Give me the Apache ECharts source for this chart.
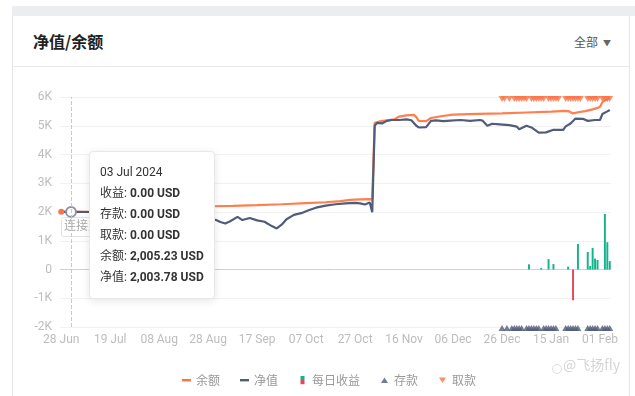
<!DOCTYPE html>
<html><head><meta charset="utf-8">
<script src="https://cdn.jsdelivr.net/npm/echarts@6/dist/echarts.min.js"></script>
<style>
html,body{margin:0;padding:0;width:635px;height:396px;background:#fff;overflow:hidden;font-family:"Noto Sans CJK SC","Noto Sans",sans-serif;}
#band{position:absolute;left:12px;top:6px;width:623px;height:10px;background:#ebedf0;}
#card{position:absolute;left:12px;top:16px;width:616px;height:380px;border-left:1px solid #e6e6e6;border-right:1px solid #e6e6e6;}
#title{position:absolute;left:33px;top:30px;line-height:22px;font-size:16px;font-weight:bold;color:#222;}
#filter{position:absolute;left:574px;top:34px;line-height:16px;font-size:12px;color:#555;}
#filter span{font-size:8px;margin-left:5px;color:#666;vertical-align:1px;}
#divider{position:absolute;left:12px;top:66px;width:618px;height:1px;background:#e8e8e8;}
#chart{position:absolute;left:0;top:0;width:635px;height:396px;}
</style></head>
<body>
<div id="band"></div><div id="card"></div>
<div id="title">净值/余额</div>
<div id="filter">全部<span>▼</span></div>
<div id="divider"></div>
<div id="chart"></div>
<script>
// ---- data ----
const tickLabels = ['28 Jun','19 Jul','08 Aug','28 Aug','17 Sep','07 Oct','27 Oct','16 Nov','06 Dec','26 Dec','15 Jan','01 Feb'];
const categoryCount = 225;
const categories = Array.from({length: categoryCount}, (_, i) => String(i));
const yTicks = { min: -2000, max: 6000, step: 1000 };

// [categoryIndex, value]
const balance = [
 [0,2005],[4,2005.23],[12,2010],[25,2060],[40,2120],[55,2180],[62,2200],[70,2215],[80,2240],[90,2270],
 [100,2310],[108,2340],[114,2380],[118,2420],[122,2440],[126,2450],[127,2430],[128,5100],[130,5150],[133,5190],
 [136,5220],[138,5320],[141,5360],[144,5380],[145,5300],[146,5170],[149,5160],[151,5270],[155,5330],[160,5390],
 [170,5410],[180,5430],[190,5460],[200,5490],[206,5520],[207,5510],[209,5430],[211,5470],[214,5510],[217,5570],
 [219,5620],[220,5660],[221,5820],[222,5880],[224,5960]
];
const equity = [
 [0,2004],[4,2003.78],[12,2000],[20,1990],[30,1920],[40,1780],[50,1730],[58,1690],[61,1700],[63,1730],
 [65,1650],[67,1600],[69,1680],[72,1830],[74,1720],[77,1790],[80,1710],[83,1660],[86,1510],[88,1430],
 [90,1560],[92,1750],[95,1900],[98,1960],[101,2060],[104,2150],[108,2220],[112,2270],[116,2300],[120,2320],
 [122,2300],[124,2260],[126,2330],[127,1990],[128,5000],[129,5100],[131,5080],[133,5170],[135,5200],[138,5200],
 [141,5220],[143,5190],[145,5000],[146,4940],[149,4950],[151,5170],[153,5190],[156,5160],[159,5180],[163,5200],
 [167,5170],[171,5200],[172,5180],[174,5000],[176,5070],[179,5050],[183,5020],[186,4970],[187,4880],[190,5000],
 [192,4940],[195,4760],[198,4770],[201,4860],[205,4860],[206,4980],[208,5080],[210,5250],[213,5240],[215,5170],
 [218,5200],[220,5200],[221,5410],[223,5500],[224,5550]
];
const dailyIncome = [
 [191,180],[196,50],[199,360],[201,190],[207,100],[209,-1070],[211,890],[215,610],[216,120],[217,750],
 [218,380],[219,330],[222,1930],[223,950],[224,290]
];
const depositDays = [180,182,184,185,186,187,188,190,191,192,193,194,195,197,198,199,200,201,202,206,207,208,209,210,211,215,216,217,218,219,221,222,223,224];
const withdrawDays = [180,181,183,185,186,187,188,189,190,192,193,194,195,196,197,199,200,201,202,203,206,207,208,209,210,211,212,215,216,217,218,219,221,222,223,224];
const depositLevel = -2000;
const withdrawLevel = 6000;
const tipDate = '03 Jul 2024';
const tipRows = [['收益','0.00 USD'],['存款','0.00 USD'],['取款','0.00 USD'],['余额','2,005.23 USD'],['净值','2,003.78 USD']];

// ---- styling ----
const C = { bal:'#fa7447', eq:'#505c79', up:'#13b38b', down:'#e8475b', label:'#bdbdbd' };
function svgIcon(body){ return 'image://data:image/svg+xml;charset=utf-8,' + encodeURIComponent('<svg xmlns="http://www.w3.org/2000/svg" width="9" height="9" viewBox="0 0 9 9">'+body+'</svg>'); }
const icons = {
  bal: svgIcon('<rect x="0" y="3.5" width="9" height="2.4" fill="'+C.bal+'"/>'),
  eq: svgIcon('<rect x="0" y="3.5" width="9" height="2.4" fill="'+C.eq+'"/>'),
  bar: svgIcon('<rect x="2.5" y="0" width="4" height="4.5" fill="'+C.up+'"/><rect x="2.5" y="4.5" width="4" height="4.5" fill="'+C.down+'"/>'),
  dep: svgIcon('<polygon points="1,7.5 8,7.5 4.5,2" fill="'+C.eq+'"/>'),
  wd: svgIcon('<polygon points="1,2 8,2 4.5,7.5" fill="'+C.bal+'"/>')
};
const font = 'Roboto, "Noto Sans CJK SC", sans-serif';
const splitColors = [];
for (let v = yTicks.min; v <= yTicks.max; v += yTicks.step) splitColors.push(v === 0 ? '#d0d0d0' : '#f1f1f1');

const chart = echarts.init(document.getElementById('chart'), null, {renderer:'canvas'});
chart.setOption({
  animation: false,
  grid: { left: 60, right: 24, top: 97, bottom: 69 },
  xAxis: {
    type: 'category', data: categories, boundaryGap: true,
    axisLine: { show: false }, axisTick: { show: false }, splitLine: { show: false },
    axisLabel: { interval: 19, color: C.label, fontSize: 12, fontFamily: font, margin: 7,
      formatter: (v, i) => tickLabels[i / 20] || '' },
    axisPointer: { type: 'line', lineStyle: { type: 'dashed', color: '#c8c8c8', width: 1 }, label: { show: false } }
  },
  yAxis: {
    type: 'value', min: yTicks.min, max: yTicks.max, interval: yTicks.step,
    axisLine: { show: false }, axisTick: { show: false },
    axisLabel: { color: C.label, fontSize: 12, fontFamily: font, margin: 8,
      formatter: v => v === 0 ? '0' : (v / 1000) + 'K' },
    splitLine: { lineStyle: { color: splitColors, width: 1 } }
  },
  tooltip: {
    trigger: 'axis', alwaysShowContent: true, position: [89, 151],
    backgroundColor: '#fff', borderColor: '#e8e8e8', borderWidth: 1, padding: [10, 10],
    extraCssText: 'box-shadow:0 2px 8px rgba(0,0,0,0.10);border-radius:4px;',
    textStyle: { fontSize: 12, color: '#333', fontFamily: font },
    axisPointer: { type: 'line', lineStyle: { type: 'dashed', color: '#c8c8c8', width: 1 } },
    formatter: () => '<div style="line-height:21px;color:#333">' + tipDate + '</div>' +
      tipRows.map(r => '<div style="line-height:21px;color:#333">' + r[0] + ': <b style="font-weight:700">' + r[1] + '</b></div>').join('')
  },
  legend: {
    left: 177, top: 369, itemGap: 20, itemWidth: 9, itemHeight: 9, selectedMode: false,
    textStyle: { color: '#999', fontSize: 12, fontFamily: '"Noto Sans CJK SC", sans-serif' },
    data: [
      { name: '余额', icon: icons.bal }, { name: '净值', icon: icons.eq },
      { name: '每日收益', icon: icons.bar }, { name: '存款', icon: icons.dep }, { name: '取款', icon: icons.wd }
    ]
  },
  graphic: [
    { type: 'rect', left: 61, top: 217, z: 1, shape: { width: 70, height: 19, r: 2 }, style: { fill: '#fff', stroke: '#e3e3e3', lineWidth: 1 } },
    { type: 'text', left: 64, top: 219, z: 2, style: { text: '连接账户', fill: '#aaa', font: '12px "Noto Sans CJK SC"' } },
    { type: 'circle', left: 550, top: 362, shape: { r: 4.5 }, style: { fill: 'none', stroke: '#dcdcdc', lineWidth: 1 } },
    { type: 'text', left: 563, top: 358, style: { text: '@飞扬fly', fill: '#d4d4d4', font: '14px "Noto Sans CJK SC"' } }
  ],
  series: [
    { name: '余额', type: 'line', data: balance, symbol: 'none', showSymbol: false, z: 3,
      lineStyle: { color: C.bal, width: 2.2 }, itemStyle: { color: C.bal },
      markPoint: { symbol: 'circle', symbolSize: 6, label: { show: false }, itemStyle: { color: C.bal },
        data: [{ coord: [categories[balance[0][0]], balance[0][1]] }] } },
    { name: '净值', type: 'line', data: equity, symbol: 'emptyCircle', symbolSize: 9, showSymbol: false, z: 4,
      lineStyle: { color: C.eq, width: 2.2 }, itemStyle: { color: '#8a93a6', borderWidth: 1.5 },
      emphasis: { disabled: true } },
    { name: '每日收益', type: 'bar', data: dailyIncome, barWidth: '80%',
      itemStyle: { color: p => (p.value[1] >= 0 ? C.up : C.down) } },
    { name: '存款', type: 'scatter', data: depositDays.map(d => [d, depositLevel]), symbol: 'triangle', symbolSize: [7, 6],
      symbolOffset: [0, 1], itemStyle: { color: C.eq }, z: 5 },
    { name: '取款', type: 'scatter', data: withdrawDays.map(d => [d, withdrawLevel]), symbol: 'triangle', symbolRotate: 180,
      symbolSize: [7, 6], symbolOffset: [0, 2], itemStyle: { color: C.bal }, z: 5 }
  ]
});
chart.dispatchAction({ type: 'showTip', x: 71, y: 211 });
</script>
</body></html>
